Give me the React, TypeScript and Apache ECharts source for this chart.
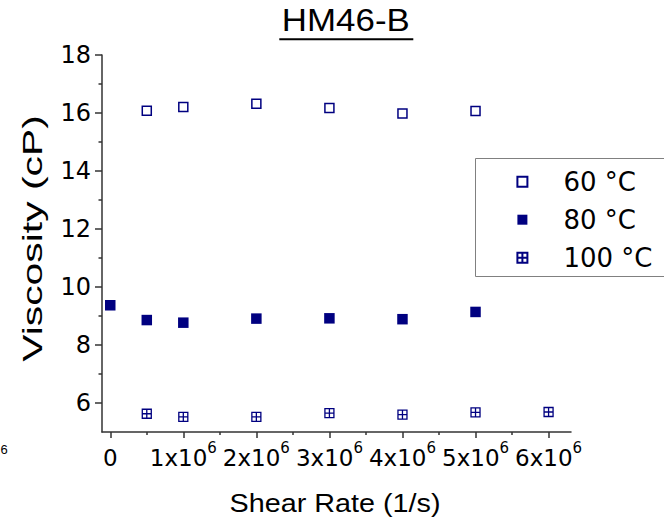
import React, { useEffect, useRef } from "react";
import * as echarts from "echarts";

const TITLE = "HM46-B";
const X_NAME = "Shear Rate (1/s)";
const Y_NAME = "Viscosity (cP)";
const SERIES_NAMES = ["60 °C", "80 °C", "100 °C"];

const X_MIN = -113000;
const X_MAX = 6307000;
const Y_MIN = 5;
const Y_MAX = 18;
const X_MAJOR = [0, 1e6, 2e6, 3e6, 4e6, 5e6, 6e6];
const X_MINOR = [5e5, 1.5e6, 2.5e6, 3.5e6, 4.5e6, 5.5e6];
const Y_MAJOR = [6, 8, 10, 12, 14, 16, 18];
const Y_MINOR = [7, 9, 11, 13, 15, 17];

const S60_X = [5e5, 1e6, 2e6, 3e6, 4e6, 5e6];
const S60_Y = [16.08, 16.21, 16.32, 16.17, 15.98, 16.07];
const S80_X = [0, 5e5, 1e6, 2e6, 3e6, 4e6, 5e6];
const S80_Y = [9.37, 8.86, 8.77, 8.91, 8.92, 8.89, 9.14];
const S100_X = [5e5, 1e6, 2e6, 3e6, 4e6, 5e6, 6e6];
const S100_Y = [5.63, 5.52, 5.52, 5.65, 5.6, 5.68, 5.69];

const NAVY = "#000080";
const AXIS = "#333333";
const SQUARE = "path://M0,0H10V10H0Z";
const CROSS = "path://M0,0H10V10H0Z M5,0V10 M0,5H10";

const zip = (xs: number[], ys: number[]) => xs.map((x, i) => [x, ys[i]]);

export default function App() {
  const ref = useRef<HTMLDivElement>(null);
  useEffect(() => {
    if (!ref.current) return;
    const chart = echarts.init(ref.current, undefined, { renderer: "svg" });
    const tickStyle = { color: AXIS, width: 1.5 };
    const option: any = {
      animation: false,
      backgroundColor: "#ffffff",
      grid: { left: 102, right: 93, top: 55, bottom: 92, containLabel: false },
      xAxis: [
        {
          type: "value",
          min: X_MIN,
          max: X_MAX,
          position: "bottom",
          axisLine: { show: true, onZero: false, lineStyle: { color: AXIS, width: 1.5 } },
          axisTick: { show: true, inside: false, length: 6, customValues: X_MAJOR, lineStyle: tickStyle },
          axisLabel: {
            customValues: X_MAJOR,
            margin: 8,
            color: "#000",
            fontFamily: "DejaVu Sans",
            fontSize: 23,
            formatter: (v: number) => (v === 0 ? "{m|0}" : `{m|${Math.round(v / 1e6)}x10}{s|6}`),
            rich: {
              m: { fontFamily: "DejaVu Sans", fontSize: 23, lineHeight: 29, color: "#000", verticalAlign: "bottom" },
              s: { fontFamily: "DejaVu Sans", fontSize: 15, lineHeight: 13, color: "#000", verticalAlign: "top" },
            },
          },
          splitLine: { show: false },
        },
        {
          type: "value",
          min: X_MIN,
          max: X_MAX,
          position: "bottom",
          axisLine: { show: false, onZero: false },
          axisTick: { show: true, inside: false, length: 3, customValues: X_MINOR, lineStyle: tickStyle },
          axisLabel: { show: false },
          splitLine: { show: false },
        },
      ],
      yAxis: [
        {
          type: "value",
          min: Y_MIN,
          max: Y_MAX,
          position: "left",
          axisLine: { show: true, onZero: false, lineStyle: { color: AXIS, width: 1.5 } },
          axisTick: { show: true, inside: false, length: 7, customValues: Y_MAJOR, lineStyle: tickStyle },
          axisLabel: { customValues: Y_MAJOR, margin: 11, color: "#000", fontFamily: "DejaVu Sans", fontSize: 24 },
          splitLine: { show: false },
        },
        {
          type: "value",
          min: Y_MIN,
          max: Y_MAX,
          position: "left",
          axisLine: { show: false, onZero: false },
          axisTick: { show: true, inside: false, length: 3.5, customValues: Y_MINOR, lineStyle: tickStyle },
          axisLabel: { show: false },
          splitLine: { show: false },
        },
      ],
      legend: {
        data: SERIES_NAMES,
        orient: "vertical",
        left: 516.4,
        top: 168.7,
        padding: 0,
        itemWidth: 72,
        itemHeight: 10,
        itemGap: 12,
        symbolKeepAspect: true,
        selectedMode: false,
        textStyle: { fontFamily: "DejaVu Sans", fontSize: 26, color: "#000", lineHeight: 26 },
      },
      graphic: [
        {
          type: "rect",
          shape: { x: 475.5, y: 158.5, width: 220, height: 118 },
          style: { fill: "none", stroke: "#808080", lineWidth: 1 },
        },
        {
          type: "text",
          x: 345.8,
          y: 20,
          scaleX: 1.09,
          style: { text: TITLE, fontFamily: "Liberation Sans", fontSize: 32, fill: "#000", align: "center", verticalAlign: "middle" },
        },
        {
          type: "line",
          shape: { x1: 279.3, y1: 39.3, x2: 413.3, y2: 39.3 },
          style: { stroke: "#000", lineWidth: 2 },
        },
        {
          type: "text",
          x: 335,
          y: 504,
          scaleX: 1.15,
          style: { text: X_NAME, fontFamily: "Liberation Sans", fontSize: 25, fill: "#000", align: "center", verticalAlign: "middle" },
        },
        {
          type: "text",
          x: 32,
          y: 238.5,
          rotation: Math.PI / 2,
          scaleX: 1.46,
          style: { text: Y_NAME, fontFamily: "Liberation Sans", fontSize: 28, fill: "#000", align: "center", verticalAlign: "middle" },
        },
        {
          type: "text",
          x: 4,
          y: 449,
          style: { text: "6", fontFamily: "Liberation Sans", fontSize: 13, fill: "#000", align: "center", verticalAlign: "middle" },
        },
      ],
      series: [
        {
          name: SERIES_NAMES[0],
          type: "scatter",
          xAxisIndex: 0,
          yAxisIndex: 0,
          symbol: SQUARE,
          symbolSize: 9,
          itemStyle: { color: "#ffffff", borderColor: NAVY, borderWidth: 1.5, opacity: 1 },
          data: zip(S60_X, S60_Y),
          z: 5,
        },
        {
          name: SERIES_NAMES[1],
          type: "scatter",
          xAxisIndex: 0,
          yAxisIndex: 0,
          symbol: SQUARE,
          symbolSize: 10.5,
          itemStyle: { color: NAVY, borderColor: NAVY, borderWidth: 0, opacity: 1 },
          data: zip(S80_X, S80_Y),
          z: 5,
        },
        {
          name: SERIES_NAMES[2],
          type: "scatter",
          xAxisIndex: 0,
          yAxisIndex: 0,
          symbol: CROSS,
          symbolSize: 9,
          itemStyle: { color: "#ffffff", borderColor: NAVY, borderWidth: 1.3, opacity: 1 },
          data: zip(S100_X, S100_Y),
          z: 5,
        },
      ],
    };
    chart.setOption(option);
    return () => chart.dispose();
  }, []);
  return (
    <div
      ref={ref}
      style={{ position: "absolute", left: 0, top: 0, width: 664, height: 524 }}
    />
  );
}
